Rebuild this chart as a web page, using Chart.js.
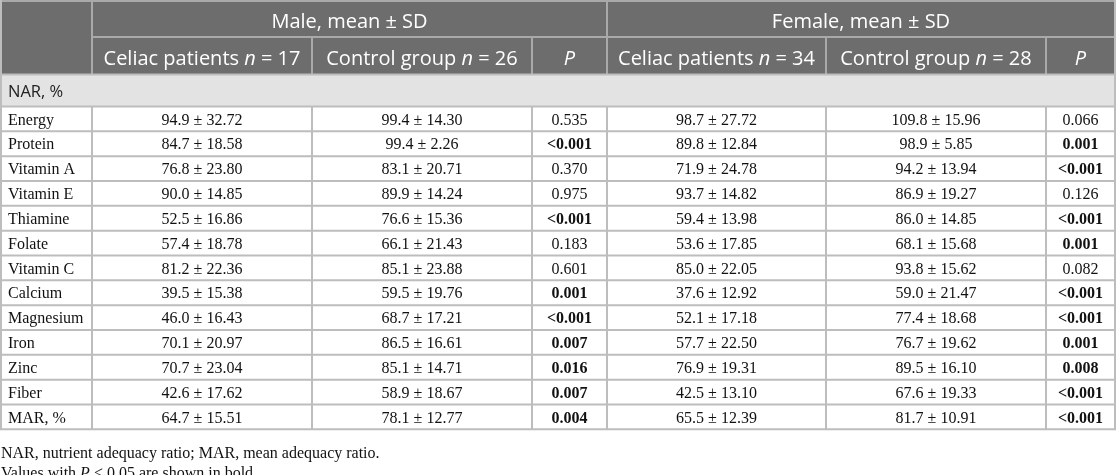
<!DOCTYPE html>
<html>
<head>
<meta charset="utf-8">
<script src="https://cdn.jsdelivr.net/npm/chart.js@4"></script>
<style>
html,body{margin:0;padding:0;background:#fff;}
#wrap{position:relative;width:1116px;height:475px;}
</style>
</head>
<body>
<div id="wrap"><canvas id="c"></canvas></div>
<script>
// ---- DATA ----
const rowLabels = ['Energy','Protein','Vitamin A','Vitamin E','Thiamine','Folate','Vitamin C','Calcium','Magnesium','Iron','Zinc','Fiber','MAR, %'];
const maleCeliacMean   = [94.9, 84.7, 76.8, 90.0, 52.5, 57.4, 81.2, 39.5, 46.0, 70.1, 70.7, 42.6, 64.7];
const maleCeliacSD     = [32.72, 18.58, 23.80, 14.85, 16.86, 18.78, 22.36, 15.38, 16.43, 20.97, 23.04, 17.62, 15.51];
const maleControlMean  = [99.4, 99.4, 83.1, 89.9, 76.6, 66.1, 85.1, 59.5, 68.7, 86.5, 85.1, 58.9, 78.1];
const maleControlSD    = [14.30, 2.26, 20.71, 14.24, 15.36, 21.43, 23.88, 19.76, 17.21, 16.61, 14.71, 18.67, 12.77];
const maleP            = ['0.535','<0.001','0.370','0.975','<0.001','0.183','0.601','0.001','<0.001','0.007','0.016','0.007','0.004'];
const femaleCeliacMean = [98.7, 89.8, 71.9, 93.7, 59.4, 53.6, 85.0, 37.6, 52.1, 57.7, 76.9, 42.5, 65.5];
const femaleCeliacSD   = [27.72, 12.84, 24.78, 14.82, 13.98, 17.85, 22.05, 12.92, 17.18, 22.50, 19.31, 13.10, 12.39];
const femaleControlMean= [109.8, 98.9, 94.2, 86.9, 86.0, 68.1, 93.8, 59.0, 77.4, 76.7, 89.5, 67.6, 81.7];
const femaleControlSD  = [15.96, 5.85, 13.94, 19.27, 14.85, 15.68, 15.62, 21.47, 18.68, 19.62, 16.10, 19.33, 10.91];
const femaleP          = ['0.066','0.001','<0.001','0.126','<0.001','0.001','0.082','<0.001','<0.001','0.001','0.008','<0.001','<0.001'];
const groupHeaders = ['Male, mean ± SD', 'Female, mean ± SD'];
const subHeaders = [
  [{t:'Celiac patients '},{t:'n',i:true},{t:' = 17'}],
  [{t:'Control group '},{t:'n',i:true},{t:' = 26'}],
  [{t:'P',i:true}],
  [{t:'Celiac patients '},{t:'n',i:true},{t:' = 34'}],
  [{t:'Control group '},{t:'n',i:true},{t:' = 28'}],
  [{t:'P',i:true}]
];
const sectionLabel = 'NAR, %';
const footnotes = [
  [{t:'NAR, nutrient adequacy ratio; MAR, mean adequacy ratio.'}],
  [{t:'Values with '},{t:'P',i:true},{t:' < 0.05 are shown in bold.'}]
];

// ---- LAYOUT (in scale units) ----
const colEdges = [1, 92, 312, 532, 607, 826, 1046, 1115];
const hdr1 = [0, 37], hdr2 = [37, 74.5], sect = [74.5, 106.5];
const bodyTop = 106.5, rowH = 24.83;
const SANS = '"Open Sans", "Noto Sans", sans-serif';
const SERIF = '"Liberation Serif", "DejaVu Serif", serif';

function fmt(m, s){ return m.toFixed(1) + ' ± ' + s.toFixed(2); }
function isSig(p){ return p.startsWith('<') || parseFloat(p) < 0.05; }

function drawRich(ctx, segs, x, y, size, family, color, align, bold){
  let w = 0;
  const fonts = segs.map(s => (s.i ? 'italic ' : '') + (bold ? 'bold ' : '') + size + 'px ' + family);
  segs.forEach((s,k) => { ctx.font = fonts[k]; w += ctx.measureText(s.t).width; });
  let cx = align === 'center' ? x - w/2 : x;
  ctx.fillStyle = color; ctx.textAlign = 'left'; ctx.textBaseline = 'middle';
  segs.forEach((s,k) => { ctx.font = fonts[k]; ctx.fillText(s.t, cx, y); cx += ctx.measureText(s.t).width; });
}

const tablePlugin = {
  id: 'tableDraw',
  afterDraw(chart){
    const ctx = chart.ctx, X = chart.scales.x, Y = chart.scales.y;
    const px = v => X.getPixelForValue(v), py = v => Y.getPixelForValue(v);
    ctx.save();
    ctx.fillStyle = '#6d6d6d';
    ctx.fillRect(px(0), py(0), px(1116)-px(0), py(hdr2[1])-py(0));
    ctx.fillStyle = '#e3e3e3';
    ctx.fillRect(px(0), py(sect[0]), px(1116)-px(0), py(sect[1])-py(sect[0]));
    const nRows = rowLabels.length;
    const bodyBot = bodyTop + nRows*rowH;
    ctx.fillStyle = '#ffffff';
    ctx.fillRect(px(0), py(bodyTop), px(1116)-px(0), py(bodyBot)-py(bodyTop));

    ctx.lineWidth = 2;
    ctx.strokeStyle = '#a9a9a9';
    const line = (x1,y1,x2,y2) => { ctx.beginPath(); ctx.moveTo(px(x1),py(y1)); ctx.lineTo(px(x2),py(y2)); ctx.stroke(); };
    line(0,1,1116,1);
    line(colEdges[1], hdr1[1], 1116, hdr1[1]);
    line(colEdges[1], 0, colEdges[1], hdr2[1]);
    line(colEdges[4], 0, colEdges[4], hdr2[1]);
    [2,3,5,6].forEach(k => line(colEdges[k], hdr2[0], colEdges[k], hdr2[1]));
    ctx.strokeStyle = '#bdbdbd';
    line(0, sect[0], 1116, sect[0]);
    line(1, 0, 1, bodyBot);
    line(1115, 0, 1115, bodyBot);
    for (let r = 0; r <= nRows; r++) line(0, bodyTop + r*rowH, 1116, bodyTop + r*rowH);
    for (let k = 1; k < colEdges.length-1; k++) line(colEdges[k], bodyTop, colEdges[k], bodyBot);

    const mid = (a,b) => px((a+b)/2);
    const h1y = py((hdr1[0]+hdr1[1])/2 + 3.5);
    drawRich(ctx, [{t:groupHeaders[0]}], mid(colEdges[1],colEdges[4]), h1y, 20, SANS, '#ffffff', 'center');
    drawRich(ctx, [{t:groupHeaders[1]}], mid(colEdges[4],colEdges[7]), h1y, 20, SANS, '#ffffff', 'center');
    subHeaders.forEach((segs,k) => {
      drawRich(ctx, segs, mid(colEdges[k+1], colEdges[k+2]), py((hdr2[0]+hdr2[1])/2 + 4), 20, SANS, '#ffffff', 'center');
    });
    drawRich(ctx, [{t:sectionLabel}], px(8), py((sect[0]+sect[1])/2 + 2), 16.5, SANS, '#222222', 'left');

    const cols = [
      r => fmt(maleCeliacMean[r], maleCeliacSD[r]),
      r => fmt(maleControlMean[r], maleControlSD[r]),
      r => maleP[r],
      r => fmt(femaleCeliacMean[r], femaleCeliacSD[r]),
      r => fmt(femaleControlMean[r], femaleControlSD[r]),
      r => femaleP[r]
    ];
    for (let r = 0; r < nRows; r++) {
      const yc = py(bodyTop + r*rowH + rowH/2 + 1.5);
      drawRich(ctx, [{t:rowLabels[r]}], px(8), yc, 16, SERIF, '#111111', 'left');
      cols.forEach((f,k) => {
        const txt = f(r);
        const bold = (k === 2 || k === 5) && isSig(txt);
        drawRich(ctx, [{t:txt}], mid(colEdges[k+1], colEdges[k+2]), yc, 16, SERIF, '#111111', 'center', bold);
      });
    }
    footnotes.forEach((segs,k) => {
      drawRich(ctx, segs, px(1), py(454 + k*20), 16, SERIF, '#111111', 'left');
    });
    ctx.restore();
  }
};

new Chart(document.getElementById('c'), {
  type: 'scatter',
  data: { datasets: [{ data: [] }] },
  options: {
    responsive: true,
    maintainAspectRatio: false,
    animation: false,
    layout: { padding: 0 },
    plugins: { legend: { display: false }, tooltip: { enabled: false } },
    scales: {
      x: { type: 'linear', min: 0, max: 1116, display: false },
      y: { type: 'linear', min: 0, max: 475, reverse: true, display: false }
    }
  },
  plugins: [tablePlugin]
});
</script>
</body>
</html>
